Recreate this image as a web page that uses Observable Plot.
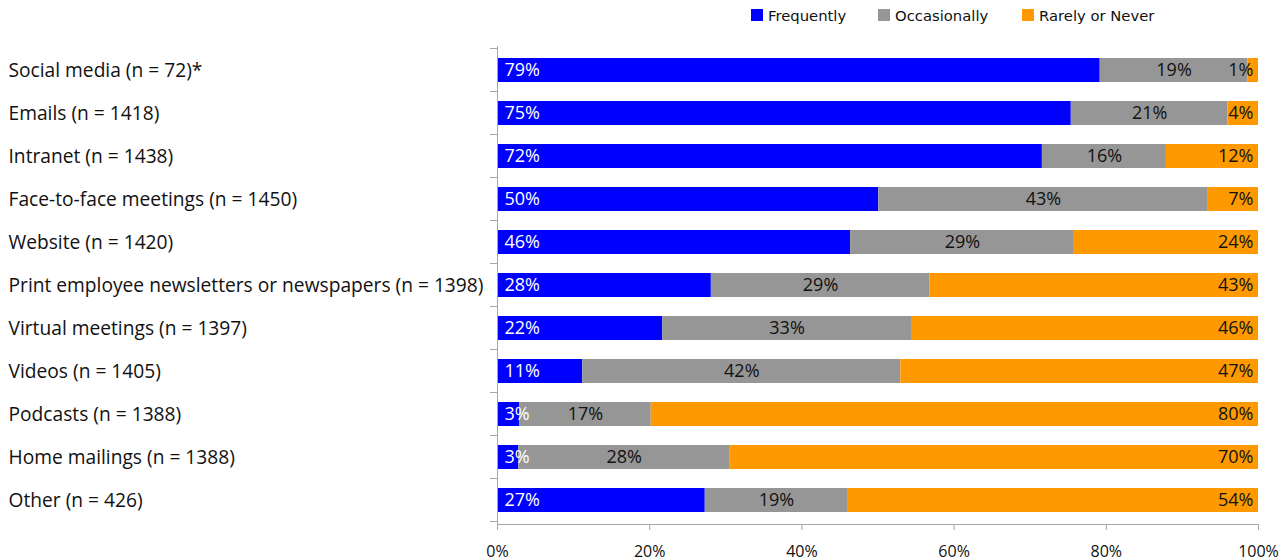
<!DOCTYPE html>
<html>
<head>
<meta charset="utf-8">
<script src="https://cdn.jsdelivr.net/npm/d3@7"></script>
<script src="https://cdn.jsdelivr.net/npm/@observablehq/plot@0.6"></script>
<style>
  html, body { margin: 0; padding: 0; background: #fff; }
  #wrap { position: relative; width: 1280px; height: 560px; font-family: "Open Sans", sans-serif; }
  #legend { position: absolute; top: 0; left: 0; width: 1280px; height: 30px; font-family: "DejaVu Sans", sans-serif; font-size: 14.8px; color: #111; }
  #legend .item { position: absolute; top: 6px; display: flex; align-items: center; height: 18px; }
  #legend .sw { width: 12px; height: 12px; margin-right: 5px; }
  #chart svg { display: block; }
</style>
</head>
<body>
<div id="wrap">
  <div id="chart"></div>
  <div id="legend"></div>
</div>
<script>
const categories = [
  "Social media (n = 72)*",
  "Emails (n = 1418)",
  "Intranet (n = 1438)",
  "Face-to-face meetings (n = 1450)",
  "Website (n = 1420)",
  "Print employee newsletters or newspapers (n = 1398)",
  "Virtual meetings (n = 1397)",
  "Videos (n = 1405)",
  "Podcasts (n = 1388)",
  "Home mailings (n = 1388)",
  "Other (n = 426)"
];
const frequently   = [79.2, 75.4, 71.6, 50.1, 46.4, 28.1, 21.7, 11.2,  2.9,  2.8, 27.3];
const occasionally = [19.4, 20.6, 16.3, 43.3, 29.4, 28.7, 32.7, 41.8, 17.3, 27.7, 18.7];
const rarely       = [ 1.4,  4.0, 12.1,  6.6, 24.2, 43.2, 45.6, 47.0, 79.8, 69.5, 54.0];
const seriesNames  = ["Frequently", "Occasionally", "Rarely or Never"];
const seriesColors = ["#0000ff", "#969696", "#ff9900"];
const xTicks = [0, 20, 40, 60, 80, 100];

const seriesValues = [frequently, occasionally, rarely];
const data = [];
categories.forEach((c, i) => {
  seriesValues.forEach((arr, j) => data.push({category: c, series: seriesNames[j], value: arr[i]}));
});

const fmt = v => Math.round(v) + "%";
const stackOpts = {x: "value", y: "category", z: "series", order: seriesNames};

const plot = Plot.plot({
  width: 1280,
  height: 560,
  marginLeft: 497,
  marginRight: 22,
  marginTop: 46,
  marginBottom: 36,
  style: {fontFamily: "'Open Sans', sans-serif", fontSize: "16px", color: "#111", overflow: "visible"},
  x: {domain: [0, 100], ticks: xTicks},
  y: {domain: categories, paddingInner: 0.45, paddingOuter: 0.225, axis: null},
  color: {domain: seriesNames, range: seriesColors},
  marks: [
    Plot.barX(data, Plot.stackX({...stackOpts, fill: "series"})),
    Plot.text(data, Plot.stackX1({...stackOpts, text: d => d.series === "Frequently" ? fmt(d.value) : null,
      textAnchor: "start", dx: 7, fill: "white", fontSize: 18})),
    Plot.text(data, Plot.stackX({...stackOpts, text: d => d.series === "Occasionally" ? fmt(d.value) : null,
      fill: "#111", fontSize: 18})),
    Plot.text(data, Plot.stackX2({...stackOpts, text: d => d.series === "Rarely or Never" ? fmt(d.value) : null,
      textAnchor: "end", dx: -5, fill: "#111", fontSize: 18})),
    Plot.text(categories, {y: d => d, text: d => d, frameAnchor: "left", textAnchor: "start", dx: -489, fontSize: 19.2, fill: "#111"}),
    Plot.ruleX([0], {stroke: "#a6a6a6", strokeWidth: 1}),
    Plot.frame({anchor: "bottom", stroke: "#a6a6a6"}),
    Plot.axisX({ticks: xTicks, tickFormat: d => d + "%", tickSize: 6, tickPadding: 15, stroke: "#a6a6a6", label: null, fontSize: 16, color: "#111"})
  ]
});

// boundary tick marks on the category axis, from the library's own band scale
const ys = plot.scale("y");
const step = ys.step;
const xs = plot.scale("x");
const x0 = xs.apply(0);
const bounds = categories.map(c => ys.apply(c) - (step - ys.bandwidth) / 2);
bounds.push(ys.apply(categories[categories.length - 1]) + ys.bandwidth + (step - ys.bandwidth) / 2);
d3.select(plot).append("g")
  .attr("stroke", "#a6a6a6")
  .selectAll("line").data(bounds).join("line")
  .attr("x1", x0 - 7).attr("x2", x0)
  .attr("y1", d => d).attr("y2", d => d);

document.getElementById("chart").appendChild(plot);

const legendLeft = [751, 878, 1022];
const legend = d3.select("#legend");
seriesNames.forEach((n, i) => {
  const it = legend.append("div").attr("class", "item").style("left", legendLeft[i] + "px");
  it.append("div").attr("class", "sw").style("background", seriesColors[i]);
  it.append("span").text(n);
});
</script>
</body>
</html>
